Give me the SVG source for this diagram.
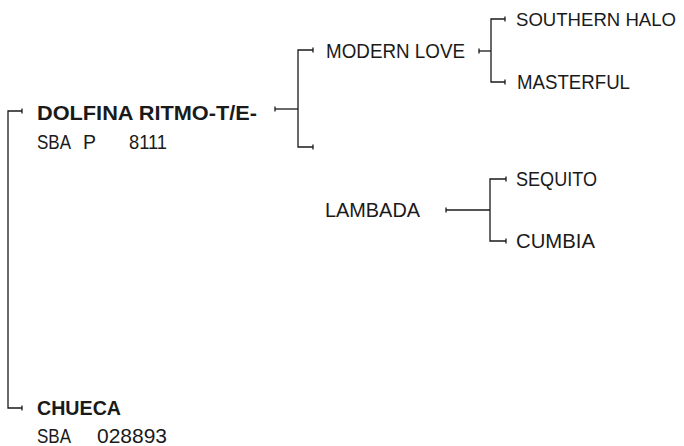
<svg xmlns="http://www.w3.org/2000/svg" width="684" height="446" viewBox="0 0 684 446">
<style>
.t{font-family:"Liberation Sans",Arial,sans-serif;font-size:21px;fill:#1a1a1a}
.b{font-weight:bold}
.c{fill:none;stroke:#1a1a1a;stroke-width:1.3}
</style>
<defs>
<marker id="tick" markerWidth="4" markerHeight="8" refX="0" refY="0" orient="auto" markerUnits="userSpaceOnUse" overflow="visible">
<path d="M0,-2.5 V2.5" stroke="#1a1a1a" stroke-width="1.3"/>
</marker>
</defs>
<rect width="684" height="446" fill="#fff"/>
<g id="connectors">
<path class="c" d="M22,111 H8 V408 H22" marker-start="url(#tick)" marker-end="url(#tick)"/>
<path class="c" d="M275,109 H298" marker-start="url(#tick)"/>
<path class="c" d="M313,50 H298 V147 H313" marker-start="url(#tick)" marker-end="url(#tick)"/>
<path class="c" d="M479,51 H491" marker-start="url(#tick)"/>
<path class="c" d="M505,19 H491 V82 H505" marker-start="url(#tick)" marker-end="url(#tick)"/>
<path class="c" d="M446,210 H490" marker-start="url(#tick)"/>
<path class="c" d="M506,179 H490 V241 H506" marker-start="url(#tick)" marker-end="url(#tick)"/>
</g>
<g id="dolfina">
<text class="t b" x="37" y="120" textLength="220" lengthAdjust="spacingAndGlyphs">DOLFINA RITMO-T/E-</text>
<text class="t" y="149"><tspan x="37" textLength="34" lengthAdjust="spacingAndGlyphs">SBA</tspan><tspan x="83" textLength="13" lengthAdjust="spacingAndGlyphs">P</tspan><tspan x="129" textLength="38" lengthAdjust="spacingAndGlyphs">8111</tspan></text>
</g>
<g id="chueca">
<text class="t b" x="37" y="415" textLength="84" lengthAdjust="spacingAndGlyphs">CHUECA</text>
<text class="t" y="443"><tspan x="37" textLength="34" lengthAdjust="spacingAndGlyphs">SBA</tspan><tspan x="97" textLength="70" lengthAdjust="spacingAndGlyphs">028893</tspan></text>
</g>
<g id="modern-love"><text class="t" x="326" y="58" textLength="139" lengthAdjust="spacingAndGlyphs">MODERN LOVE</text></g>
<g id="southern-halo"><text class="t" x="516" y="26" style="font-size:19px" textLength="160" lengthAdjust="spacingAndGlyphs">SOUTHERN HALO</text></g>
<g id="masterful"><text class="t" x="517" y="89" textLength="113" lengthAdjust="spacingAndGlyphs">MASTERFUL</text></g>
<g id="lambada"><text class="t" x="325" y="217" textLength="95" lengthAdjust="spacingAndGlyphs">LAMBADA</text></g>
<g id="sequito"><text class="t" x="516" y="186" textLength="81" lengthAdjust="spacingAndGlyphs">SEQUITO</text></g>
<g id="cumbia"><text class="t" x="516" y="248" textLength="79" lengthAdjust="spacingAndGlyphs">CUMBIA</text></g>
</svg>
